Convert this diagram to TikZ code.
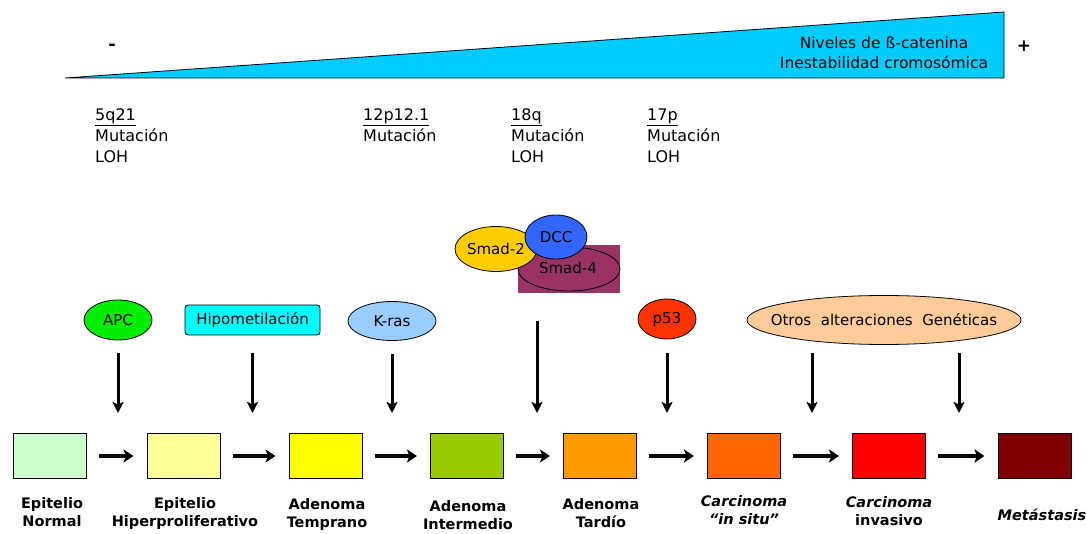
\documentclass[tikz,border=0pt]{standalone}
\usepackage{fontspec}
\setmainfont{DejaVu Sans}
\usetikzlibrary{arrows.meta,shapes.geometric}

\definecolor{gradcyan}{HTML}{00CCFF}
\definecolor{stA}{HTML}{CCFFCC}
\definecolor{stB}{HTML}{FFFF99}
\definecolor{stC}{HTML}{FFFF00}
\definecolor{stD}{HTML}{99CC00}
\definecolor{stE}{HTML}{FF9900}
\definecolor{stF}{HTML}{FF6600}
\definecolor{stG}{HTML}{FF0000}
\definecolor{stH}{HTML}{800000}
\definecolor{apcgreen}{HTML}{00EE00}
\definecolor{hipocyan}{HTML}{00FFFF}
\definecolor{krasblue}{HTML}{99CCFF}
\definecolor{smadyellow}{HTML}{FFCC00}
\definecolor{dccblue}{HTML}{3366FF}
\definecolor{smadpurple}{HTML}{993366}
\definecolor{pred}{HTML}{FF3300}
\definecolor{otrospeach}{HTML}{FFCC99}

\begin{document}
\begin{tikzpicture}[x=1pt,y=-1pt,
  every node/.style={font=\fontsize{15}{18}\selectfont},
  stagebox/.style={draw=black, line width=1pt, minimum width=73pt, minimum height=45pt, inner sep=0pt},
  stagelabel/.style={align=center, anchor=north, inner sep=0pt, font=\fontsize{14.5}{17.5}\selectfont\bfseries},
  agent/.style={draw=black, line width=0.8pt, ellipse, inner sep=0pt},
  locus/.style={align=left, anchor=north west, inner sep=0pt, font=\fontsize{16}{21}\selectfont},
  flow/.style={line width=4pt, -{Stealth[length=10pt,width=13pt,inset=2.5pt]}},
  hit/.style={line width=3pt, -{Stealth[length=11pt,width=11pt,inset=2.5pt]}},
]
\useasboundingbox (0,0) rectangle (1087,534);

% gradient wedge
\draw[fill=gradcyan, line width=0.8pt] (65,78) -- (1004,78) -- (1004,12) -- cycle;
\node[align=center, inner sep=0pt, font=\fontsize{15.5}{20}\selectfont] (wedge) at (884,53)
  {Niveles de ß-catenina\\Inestabilidad cromosómica};
\node[font=\fontsize{18}{18}\selectfont\bfseries] (minus) at (112,47) {-};
\node[font=\fontsize{17}{18}\selectfont\bfseries] (plus) at (1024,46) {+};

% chromosomal loci
\node[locus] (l1) at (95,108.5) {\underline{5q21}\\Mutación\\LOH};
\node[locus] (l2) at (363,108.5) {\underline{12p12.1}\\Mutación};
\node[locus] (l3) at (511,108.5) {\underline{18q}\\Mutación\\LOH};
\node[locus] (l4) at (647,108.5) {\underline{17p}\\Mutación\\LOH};

% Smad complex
\fill[smadpurple] (518,245) rectangle (620,293);
\node[draw=black, line width=0.8pt, ellipse, minimum width=102pt, minimum height=44pt, inner sep=0pt] (smad4) at (569,269) {};
\node (smad4txt) at (568,268) {Smad-4};
\node[agent, fill=smadyellow, minimum width=82pt, minimum height=45pt, inner xsep=-4pt] (smad2) at (496,249) {Smad-2};
\node[agent, fill=dccblue, minimum width=62pt, minimum height=44pt] (dcc) at (556,237) {DCC};

% genetic events
\node[agent, fill=apcgreen, minimum width=68pt, minimum height=40pt] (apc) at (118,320) {APC};
\node[draw=black, line width=0.8pt, rounded corners=3pt, fill=hipocyan, minimum width=135pt, minimum height=30pt, inner sep=0pt] (hipo) at (252.5,320) {Hipometilación};
\node[agent, fill=krasblue, minimum width=88pt, minimum height=39pt] (kras) at (392,321) {K-ras};
\node[agent, fill=pred, minimum width=58pt, minimum height=40pt] (p53) at (667,319) {p53};
\node[agent, fill=otrospeach, minimum width=274pt, minimum height=49pt, inner xsep=-30pt, inner ysep=0pt] (otros) at (884,320) {Otros\ \ alteraciones\ \ Genéticas};

% progression stages
\node[stagebox, fill=stA] (b1) at (50,456) {};
\node[stagebox, fill=stB] (b2) at (183.5,456) {};
\node[stagebox, fill=stC] (b3) at (325.5,456) {};
\node[stagebox, fill=stD] (b4) at (467,456) {};
\node[stagebox, fill=stE] (b5) at (600,456) {};
\node[stagebox, fill=stF] (b6) at (744,456) {};
\node[stagebox, fill=stG] (b7) at (889,456) {};
\node[stagebox, fill=stH] (b8) at (1034.5,456) {};

\node[stagelabel] (t1) at (52,497.5) {Epitelio\\Normal};
\node[stagelabel] (t2) at (185,497.5) {Epitelio\\Hiperproliferativo};
\node[stagelabel] (t3) at (327,498.5) {Adenoma\\Temprano};
\node[stagelabel] (t4) at (468,500.5) {Adenoma\\Intermedio};
\node[stagelabel] (t5) at (601,498.5) {Adenoma\\Tardío};
\node[stagelabel] (t6) at (744,495.5) {\itshape Carcinoma\\\itshape \textquotedblleft in situ\textquotedblright};
\node[stagelabel] (t7) at (889,496.5) {\itshape Carcinoma\\invasivo};
\node[stagelabel, anchor=base, font=\fontsize{14.5}{17}\selectfont\bfseries\itshape] (t8) at (1042,520) {Metástasis};

% horizontal progression arrows
\foreach \a/\b in {b1/b2,b2/b3,b3/b4,b4/b5,b5/b6,b6/b7,b7/b8}
  \draw[flow, shorten <=12pt, shorten >=13pt] (\a) -- (\b);

% vertical event arrows
\coordinate (tipline) at (0,413);
\coordinate (smadsrc) at (537,321);
\coordinate (otrosA) at (812,353);
\coordinate (otrosB) at (959,353);
\draw[hit, shorten <=13pt] (apc.south) -- (apc.south |- tipline);
\draw[hit, shorten <=18pt] (hipo.south) -- (hipo.south |- tipline);
\draw[hit, shorten <=13pt] (kras.south) -- (kras.south |- tipline);
\draw[hit] (smadsrc) -- (smadsrc |- tipline);
\draw[hit, shorten <=14pt] (p53.south) -- (p53.south |- tipline);
\draw[hit] (otrosA) -- (otrosA |- tipline);
\draw[hit] (otrosB) -- (otrosB |- tipline);
\end{tikzpicture}
\end{document}
